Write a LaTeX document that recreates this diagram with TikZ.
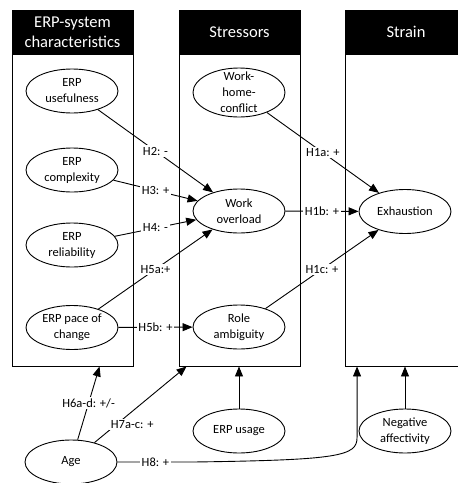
\documentclass[tikz,border=0pt]{standalone}
\usepackage{fontspec}
\setmainfont{Carlito}
\usetikzlibrary{arrows.meta}
\usetikzlibrary{shapes.geometric}

\begin{document}
\begin{tikzpicture}[x=1pt, y=-1pt,
                colbox/.style={rectangle, draw=black, line width=0.9pt, minimum width=121pt, minimum height=356pt, inner sep=0pt},
                headbox/.style={rectangle, draw=black, fill=black, line width=0.9pt, text=white, minimum width=121pt, minimum height=44pt, inner sep=0pt, align=center, font=\fontsize{16.5}{20}\selectfont},
                varnode/.style={ellipse, draw=black, fill=white, line width=0.9pt, minimum width=92pt, minimum height=44pt, inner sep=0pt, align=center, font=\fontsize{12.5}{16}\selectfont},
                hyp/.style={-{Triangle[length=10pt, width=8pt]}, line width=0.9pt},
                hlabel/.style={fill=white, inner sep=1.5pt, font=\fontsize{12.5}{15}\selectfont},
                ]
                \useasboundingbox (0,0) rectangle (458,483);

                \node[colbox] (C) at (72.5,188) {};
                \node[colbox] (S) at (239.5,188) {};
                \node[colbox] (T) at (406,188) {};
                \node[headbox, anchor=north] (CH) at (C.north) {ERP-system\\characteristics};
                \node[headbox, anchor=north] (SH) at (S.north) {Stressors};
                \node[headbox, anchor=north] (TH) at (T.north) {Strain};

                \node[varnode] (U) at (72,91) {ERP\\usefulness};
                \node[varnode] (X) at (72,170) {ERP\\complexity};
                \node[varnode] (R) at (72,245) {ERP\\reliability};
                \node[varnode] (P) at (72,327.5) {ERP pace of\\change};

                \node[varnode, minimum height=49pt, inner ysep=-6pt] (W) at (239,92.5) {Work-\\home-\\conflict};
                \node[varnode] (O) at (239,211) {Work\\overload};
                \node[varnode] (RA) at (239,327) {Role\\ambiguity};
                \node[varnode] (EU) at (239,431) {ERP usage};

                \node[varnode] (E) at (405,211.5) {Exhaustion};
                \node[varnode] (N) at (405,431) {Negative\\affectivity};

                \node[varnode] (A) at (71,462) {Age};

                \coordinate (Cin) at ([xshift=88pt]C.south west);
                \coordinate (Sin) at ([xshift=8pt]S.south west);
                \coordinate (Tin) at ([xshift=12pt]T.south west);
                \coordinate (H8bend) at ([yshift=-71pt]Tin);

                \draw[hyp] (U) -- node[hlabel] {H2: -} (O);
                \draw[hyp] (X) -- node[hlabel] {H3: +} (O);
                \draw[hyp] (R) -- node[hlabel] {H4: -} (O);
                \draw[hyp] (P) -- node[hlabel] {H5a:+} (O);
                \draw[hyp] (P) -- node[hlabel] {H5b: +} (RA);

                \draw[hyp] (W) -- node[hlabel] {H1a: +} (E);
                \draw[hyp] (O) -- node[hlabel] {H1b: +} (E);
                \draw[hyp] (RA) -- node[hlabel] {H1c: +} (E);

                \draw[hyp] (A) -- node[hlabel] {H6a-d: +/-} (Cin);
                \draw[hyp] (A) -- node[hlabel, pos=0.28, xshift=12pt, yshift=-3pt] {H7a-c: +} (Sin);
                \draw[hyp] (A.east) -- node[hlabel] {H8: +} ++(76,0) .. controls (340,460) and (357,456) .. (H8bend) -- (Tin);

                \draw[hyp] (EU) -- (EU |- S.south);
                \draw[hyp] (N) -- (N |- T.south);
            \end{tikzpicture}
\end{document}
